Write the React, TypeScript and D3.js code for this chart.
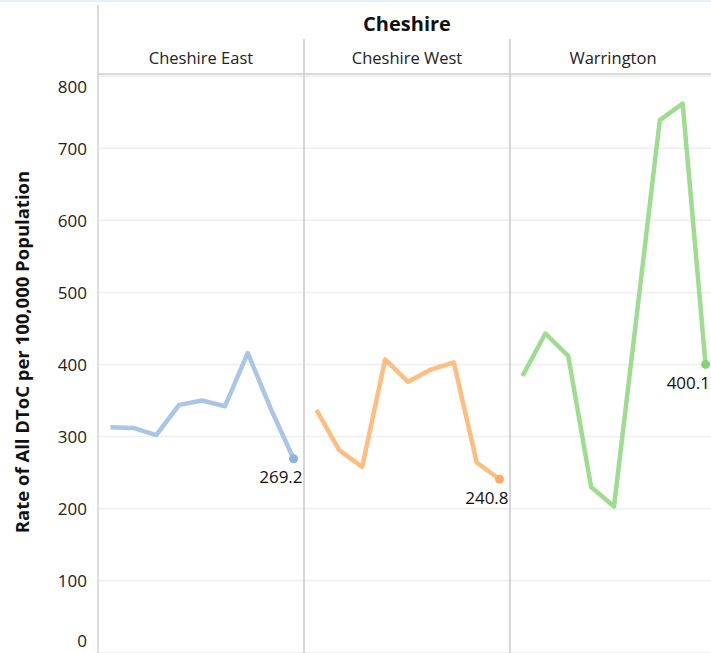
import React from "react";
import * as d3 from "d3";

const periods = ["P1", "P2", "P3", "P4", "P5", "P6", "P7", "P8", "P9"];
const panels = ["Cheshire East", "Cheshire West", "Warrington"];
const cheshireEast = [313, 312, 302, 344, 350, 342, 416, 339, 269.2];
const cheshireWest = [337, 281, 258, 407, 376, 393, 403, 264, 240.8];
const warrington = [384, 443, 412, 230, 203, 470, 739, 762, 400.1];
const seriesValues = [cheshireEast, cheshireWest, warrington];
const lineColors = ["#aac6e6", "#ffbd80", "#9edc90"];
const dotColors = ["#8fb3dc", "#ffaa66", "#85d278"];
const yTicks = [0, 100, 200, 300, 400, 500, 600, 700, 800];
const topTitle = "Cheshire";
const yTitle = "Rate of All DToC per 100,000 Population";

const W = 711;
const H = 653;
const axisX = 98;
const panelW = 206;
const headerY = 74;
const FONT = "'Open Sans', sans-serif";

export default function App() {
  const y = d3.scaleLinear().domain([0, 800]).range([652.8, 76.2]);
  const line = d3.line<[number, number]>().x((d) => d[0]).y((d) => d[1]);

  return (
    <svg
      width={W}
      height={H}
      style={{ position: "absolute", left: 0, top: 0, background: "#fff" }}
      fontFamily={FONT}
    >
      <rect x={0} y={0} width={W} height={2} fill="#e6eef7" />
      {yTicks.map((t) => (
        <line
          key={"g" + t}
          x1={axisX}
          x2={W}
          y1={y(t)}
          y2={y(t)}
          stroke="#eeeeee"
          strokeWidth={1.5}
        />
      ))}
      <line x1={axisX} x2={axisX} y1={5} y2={H} stroke="#d0d0d0" strokeWidth={1.5} />
      <line x1={axisX} x2={W} y1={headerY} y2={headerY} stroke="#cccccc" strokeWidth={1.5} />
      {panels.map((p, i) =>
        i === 0 ? null : (
          <line
            key={"d" + p}
            x1={axisX + i * panelW}
            x2={axisX + i * panelW}
            y1={39}
            y2={H}
            stroke="#c8c8c8"
            strokeWidth={1.5}
          />
        )
      )}
      <text
        x={axisX + (panelW * 3) / 2}
        y={23}
        textAnchor="middle"
        dominantBaseline="central"
        fontWeight="bold"
        fontSize={20}
        fill="#111"
      >
        {topTitle}
      </text>
      {panels.map((p, i) => (
        <text
          key={"h" + p}
          x={axisX + i * panelW + panelW / 2}
          y={57}
          textAnchor="middle"
          dominantBaseline="central"
          fontSize={16.5}
          fill="#222"
        >
          {p}
        </text>
      ))}
      {yTicks.map((t) => (
        <text
          key={"t" + t}
          x={87}
          y={Math.min(Math.max(y(t), 86), 640)}
          textAnchor="end"
          dominantBaseline="central"
          fontSize={17}
          fill="#222"
        >
          {t}
        </text>
      ))}
      <text
        transform={`translate(21,352) rotate(-90)`}
        textAnchor="middle"
        dominantBaseline="central"
        fontWeight="bold"
        fontSize={18.5}
        fill="#111"
      >
        {yTitle}
      </text>
      {seriesValues.map((vals, i) => {
        const x0 = axisX + i * panelW;
        const x = d3
          .scalePoint<string>()
          .domain(periods)
          .range([x0 + 1, x0 + panelW + 1])
          .padding(0.5);
        const pts: [number, number][] = vals.map((v, j) => [x(periods[j]) as number, y(v)]);
        const last = pts[pts.length - 1];
        const lastVal = vals[vals.length - 1];
        return (
          <g key={"s" + i}>
            <path
              d={line(pts) || ""}
              fill="none"
              stroke={lineColors[i]}
              strokeWidth={4.5}
              strokeLinejoin="round"
            />
            <circle cx={last[0]} cy={last[1]} r={4.5} fill={dotColors[i]} />
            <text
              x={Math.min(last[0] + 9, W - 1)}
              y={last[1] + 18}
              textAnchor="end"
              dominantBaseline="central"
              fontSize={17}
              fill="#111"
            >
              {lastVal.toFixed(1)}
            </text>
          </g>
        );
      })}
    </svg>
  );
}
